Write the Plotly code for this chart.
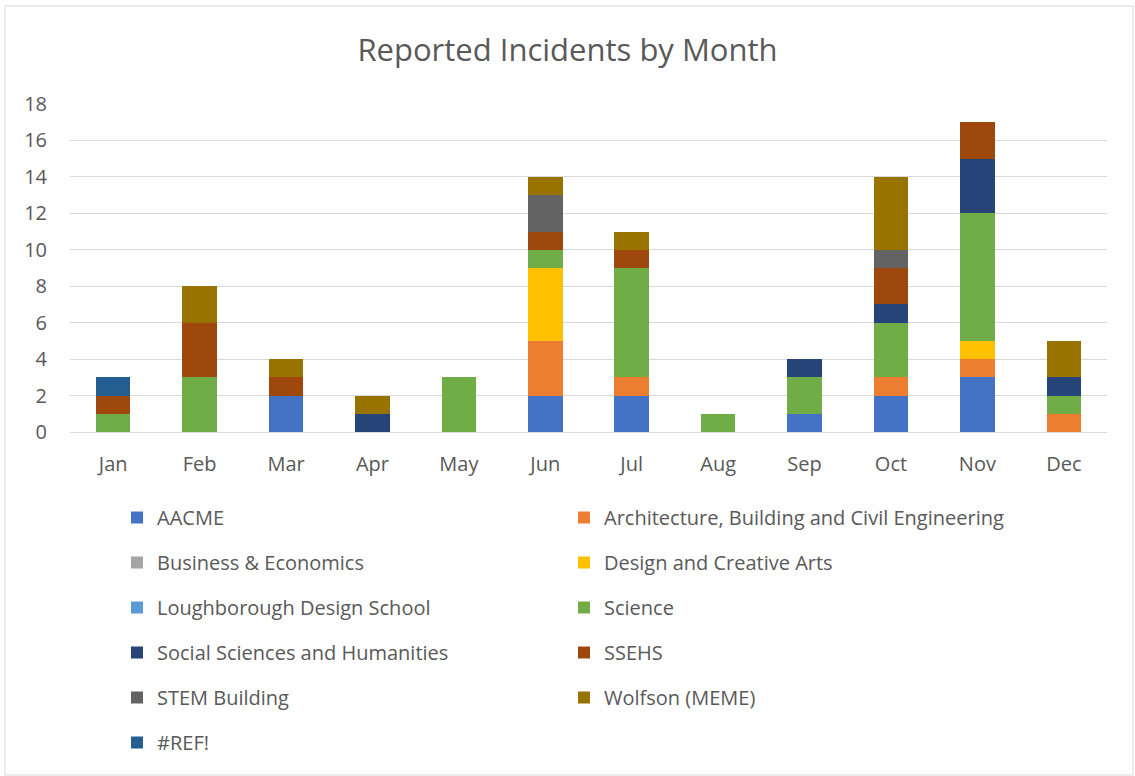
import plotly.graph_objects as go

# ── Data ─────────────────────────────────────────────────────────────────────
months = ["Jan", "Feb", "Mar", "Apr", "May", "Jun",
          "Jul", "Aug", "Sep", "Oct", "Nov", "Dec"]

aacme      = [0, 0, 2, 0, 0, 2, 2, 0, 1, 2, 3, 0]
arch       = [0, 0, 0, 0, 0, 3, 1, 0, 0, 1, 1, 1]
business   = [0, 0, 0, 0, 0, 0, 0, 0, 0, 0, 0, 0]
design     = [0, 0, 0, 0, 0, 4, 0, 0, 0, 0, 1, 0]
lds        = [0, 0, 0, 0, 0, 0, 0, 0, 0, 0, 0, 0]
science    = [1, 3, 0, 0, 3, 1, 6, 1, 2, 3, 7, 1]
socsci     = [0, 0, 0, 1, 0, 0, 0, 0, 1, 1, 3, 1]
ssehs      = [1, 3, 1, 0, 0, 1, 1, 0, 0, 2, 2, 0]
stem       = [0, 0, 0, 0, 0, 2, 0, 0, 0, 1, 0, 0]
wolfson    = [0, 2, 1, 1, 0, 1, 1, 0, 0, 4, 0, 2]
ref_err    = [1, 0, 0, 0, 0, 0, 0, 0, 0, 0, 0, 0]

y_ticks = [0, 2, 4, 6, 8, 10, 12, 14, 16, 18]

# ── Styling ──────────────────────────────────────────────────────────────────
FONT = "'Open Sans', Lato, sans-serif"
C_TEXT = "#595959"
C_GRID = "#D9D9D9"

# (name, values, colour, legend column)
series = [
    ("AACME", aacme, "#4472C4", "legend"),
    ("Architecture, Building and Civil Engineering", arch, "#ED7D31", "legend2"),
    ("Business & Economics", business, "#A5A5A5", "legend"),
    ("Design and Creative Arts", design, "#FFC000", "legend2"),
    ("Loughborough Design School", lds, "#5B9BD5", "legend"),
    ("Science", science, "#70AD47", "legend2"),
    ("Social Sciences and Humanities", socsci, "#264478", "legend"),
    ("SSEHS", ssehs, "#9E480E", "legend2"),
    ("STEM Building", stem, "#636363", "legend"),
    ("Wolfson (MEME)", wolfson, "#997300", "legend2"),
    ("#REF!", ref_err, "#255E91", "legend"),
]

W, H = 1135, 776
L, R, T, B = 70, 28, 104, 344
PW, PH = W - L - R, H - T - B


def px_x(px):
    return (px - L) / PW


def px_y(py):
    return (H - B - py) / PH


fig = go.Figure()
for name, vals, color, leg in series:
    fig.add_trace(go.Bar(
        x=months, y=vals, name=name, legend=leg, legendgroup=name,
        marker=dict(color=color, line=dict(width=0)),
        hovertemplate="%{x}: %{y}<extra>" + name + "</extra>",
    ))

legend_common = dict(
    orientation="v", yanchor="top", xanchor="left",
    font=dict(family=FONT, size=20, color=C_TEXT),
    tracegroupgap=16, bgcolor="rgba(0,0,0,0)", traceorder="grouped",
)

fig.update_layout(
    width=W, height=H,
    barmode="stack", bargap=0.6,
    paper_bgcolor="white", plot_bgcolor="white",
    font=dict(family=FONT, size=20, color=C_TEXT),
    margin=dict(l=L, r=R, t=T, b=B),
    title=dict(text="Reported Incidents by Month", x=0.5, xanchor="center",
               y=1 - 50 / H, yanchor="middle",
               font=dict(family=FONT, size=31, color=C_TEXT)),
    xaxis=dict(showgrid=False, zeroline=False, showline=True,
               linecolor=C_GRID, linewidth=1, ticks="",
               ticklabelstandoff=14,
               tickfont=dict(family=FONT, size=20, color=C_TEXT)),
    yaxis=dict(range=[0, 18], tickvals=y_ticks, showgrid=True,
               gridcolor=C_GRID, gridwidth=1, zeroline=False,
               ticklabelstandoff=22,
               tickfont=dict(family=FONT, size=20, color=C_TEXT)),
    legend=dict(x=px_x(117), y=px_y(498), **legend_common),
    legend2=dict(x=px_x(564), y=px_y(498), **legend_common),
    shapes=[dict(type="rect", xref="paper", yref="paper",
                 x0=px_x(5), x1=px_x(1133), y0=px_y(775), y1=px_y(6),
                 line=dict(color="#D9D9D9", width=1), layer="below")],
)

# the page body has a default 8px margin; drop it so the figure sits at 0,0
fig.write_html("out.html", config={"displayModeBar": False},
               post_script="document.body.style.margin='0';")
